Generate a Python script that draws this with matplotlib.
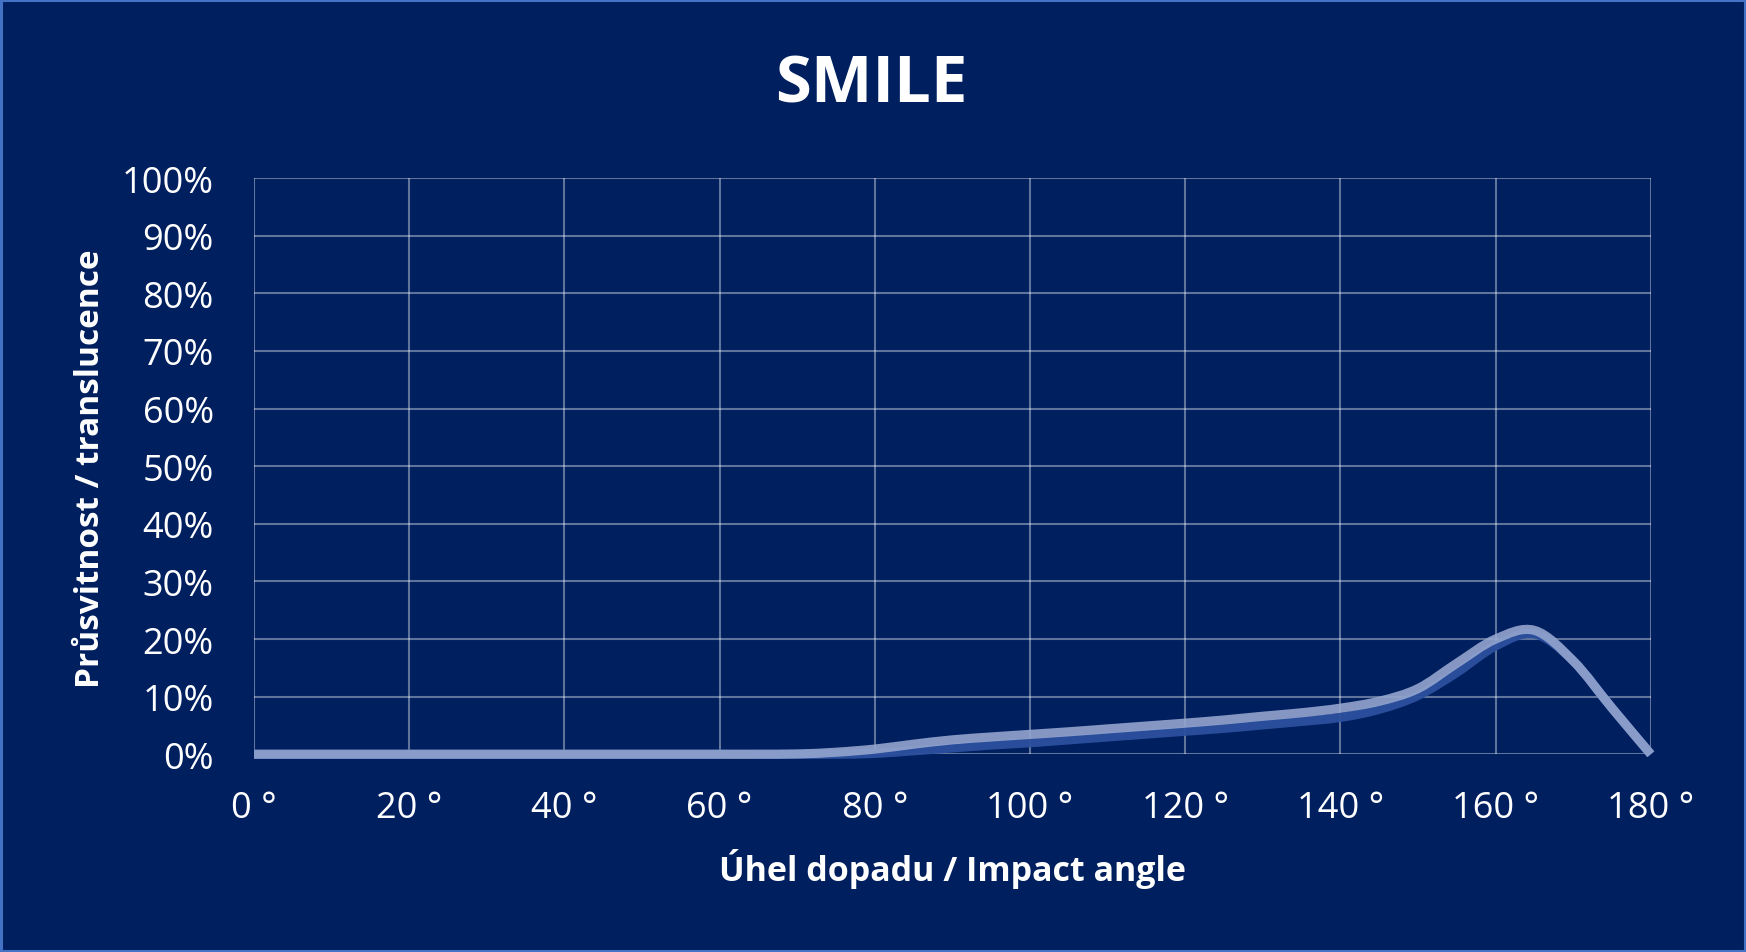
import numpy as np
import matplotlib
matplotlib.use("Agg")
import matplotlib.pyplot as plt
from matplotlib.path import Path
from matplotlib.patches import PathPatch, Rectangle
from matplotlib.ticker import FuncFormatter

# ---- data ----
angles = [0, 5, 10, 15, 20, 25, 30, 35, 40, 45, 50, 55, 60, 65, 70, 75, 80, 85, 90,
          95, 100, 105, 110, 115, 120, 125, 130, 135, 140, 145, 150, 155, 160, 165,
          170, 175, 180]
series_dark = [0, 0, 0, 0, 0, 0, 0, 0, 0, 0, 0, 0, 0, 0, 0, 0, 0.0015, 0.006, 0.011,
               0.016, 0.020, 0.025, 0.030, 0.035, 0.040, 0.045, 0.051, 0.057, 0.064,
               0.078, 0.102, 0.142, 0.188, 0.209, 0.162, 0.080, 0.0]
series_light = [0, 0, 0, 0, 0, 0, 0, 0, 0, 0, 0, 0, 0, 0, 0.0005, 0.0035, 0.009, 0.0175,
                0.025, 0.030, 0.0345, 0.039, 0.044, 0.049, 0.054, 0.0595, 0.066, 0.072,
                0.080, 0.092, 0.114, 0.158, 0.200, 0.215, 0.162, 0.080, 0.0]
x_ticks = [0, 20, 40, 60, 80, 100, 120, 140, 160, 180]
y_ticks = [0, 0.1, 0.2, 0.3, 0.4, 0.5, 0.6, 0.7, 0.8, 0.9, 1.0]
title = "SMILE"
x_label = "Úhel dopadu / Impact angle"
y_label = "Průsvitnost / translucence"

BG = "#001F5F"
FONT = ["Open Sans", "DejaVu Sans"]
plt.rcParams["font.family"] = FONT


def smooth_path(xs, ys):
    pts = np.column_stack([xs, ys]).astype(float)
    n = len(pts)
    verts = [pts[0]]
    codes = [Path.MOVETO]
    for i in range(n - 1):
        p0 = pts[i - 1] if i > 0 else pts[i]
        p1 = pts[i]
        p2 = pts[i + 1]
        p3 = pts[i + 2] if i + 2 < n else pts[i + 1]
        c1 = p1 + (p2 - p0) / 6.0
        c2 = p2 - (p3 - p1) / 6.0
        verts += [c1, c2, p2]
        codes += [Path.CURVE4, Path.CURVE4, Path.CURVE4]
    return Path(verts, codes)


fig = plt.figure(figsize=(17.46, 9.53), dpi=100, facecolor=BG)
ax = fig.add_axes([0.1455, 0.2075, 0.8000, 0.6045])
ax.set_facecolor(BG)

ax.set_xlim(0, 180)
ax.set_ylim(0, 1)
ax.set_xticks(x_ticks)
ax.set_yticks(y_ticks)
ax.xaxis.set_major_formatter(FuncFormatter(lambda v, p: f"{int(round(v))} °"))
ax.yaxis.set_major_formatter(FuncFormatter(lambda v, p: f"{int(round(v * 100))}%"))
ax.tick_params(axis="both", length=0, colors="white", labelsize=26)
ax.tick_params(axis="y", pad=29)
ax.tick_params(axis="x", pad=26)
for s in ax.spines.values():
    s.set_visible(False)
ax.grid(True, color="white", alpha=0.38, linewidth=1.5)
ax.set_axisbelow(True)

p_dark = PathPatch(smooth_path(angles, series_dark), facecolor="none",
                   edgecolor="#2C509E", linewidth=6.6, alpha=0.95,
                   capstyle="butt", joinstyle="round", clip_on=False, zorder=3)
p_light = PathPatch(smooth_path(angles, series_light), facecolor="none",
                    edgecolor="#97A8D0", linewidth=6.6, alpha=0.88,
                    capstyle="butt", joinstyle="round", clip_on=False, zorder=4)
ax.add_patch(p_dark)
ax.add_patch(p_light)

fig.text(0.499, 0.892, title, ha="center", va="baseline", color="white",
         fontsize=47, fontweight="bold")
fig.text(0.5455, 0.088, x_label, ha="center", va="center", color="white",
         fontsize=24.5, fontweight="bold")
fig.text(0.052, 0.508, y_label, ha="center", va="center", color="white",
         fontsize=24, fontweight="bold", rotation=90)

fig.patches.append(Rectangle((0.0008, 0.0012), 0.9984, 0.9976, transform=fig.transFigure,
                             fill=False, edgecolor="#4472C4", linewidth=2.2))

fig.savefig("out.png", dpi=100, facecolor=BG)
